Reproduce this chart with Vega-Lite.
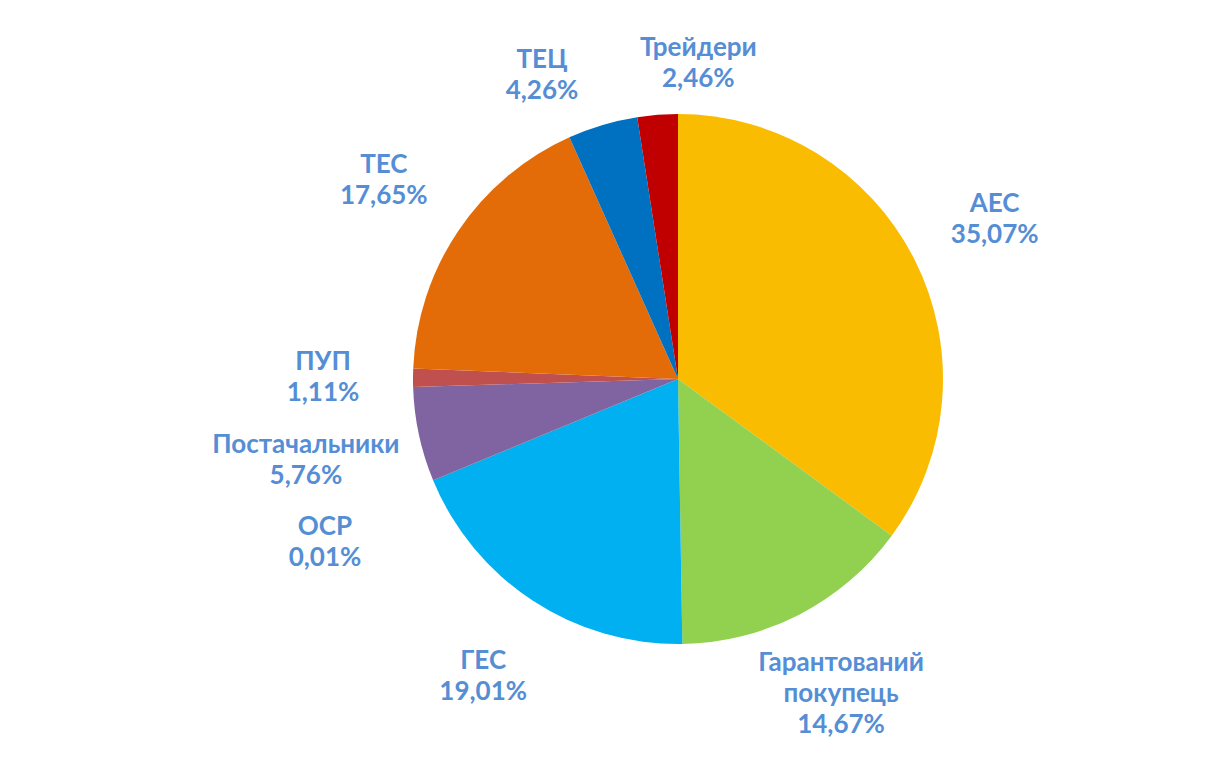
{
  "$schema": "https://vega.github.io/schema/vega-lite/v6.json",
  "width": 1056,
  "height": 758,
  "autosize": {"type": "none"},
  "padding": {"left": 150, "right": 0, "top": 0, "bottom": 0},
  "background": "white",
  "view": {"stroke": null},
  "config": {
    "text": {"font": "Lato", "fontWeight": "bold", "fontSize": 26, "lineHeight": 31, "lineBreak": "\n", "align": "center", "baseline": "middle", "radius": 355, "fill": "#558ED5"}
  },
  "data": {
    "values": [
      {"i": 1, "name": "АЕС", "share": 35.07, "caption": "АЕС\n35,07%"},
      {"i": 2, "name": "Гарантований покупець", "share": 14.67, "caption": "Гарантований\nпокупець\n14,67%"},
      {"i": 3, "name": "ГЕС", "share": 19.01, "caption": "ГЕС\n19,01%"},
      {"i": 4, "name": "ОСР", "share": 0.01, "caption": "ОСР\n0,01%"},
      {"i": 5, "name": "Постачальники", "share": 5.76, "caption": "Постачальники\n5,76%"},
      {"i": 6, "name": "ПУП", "share": 1.11, "caption": "ПУП\n1,11%"},
      {"i": 7, "name": "ТЕС", "share": 17.65, "caption": "ТЕС\n17,65%"},
      {"i": 8, "name": "ТЕЦ", "share": 4.26, "caption": "ТЕЦ\n4,26%"},
      {"i": 9, "name": "Трейдери", "share": 2.46, "caption": "Трейдери\n2,46%"}
    ]
  },
  "encoding": {
    "theta": {"field": "share", "type": "quantitative", "stack": true},
    "order": {"field": "i", "type": "quantitative"}
  },
  "layer": [
    {
      "mark": {"type": "arc", "outerRadius": 265, "stroke": null},
      "encoding": {
        "color": {
          "field": "name",
          "type": "nominal",
          "legend": null,
          "scale": {
            "domain": ["АЕС", "Гарантований покупець", "ГЕС", "ОСР", "Постачальники", "ПУП", "ТЕС", "ТЕЦ", "Трейдери"],
            "range": ["#F9BC00", "#92D050", "#00B0F0", "#2F2F2F", "#8064A2", "#C0504D", "#E36C09", "#0070C0", "#C00000"]
          }
        }
      }
    },
    {
      "mark": {"type": "text", "radius": 355, "dy": -15},
      "encoding": {"text": {"condition": {"test": "indexof(['АЕС','ГЕС','ТЕС','ПУП'], datum.name) >= 0", "field": "caption"}, "value": ""}}
    },
    {
      "mark": {"type": "text", "radius": 355, "dy": -31},
      "encoding": {"text": {"condition": {"test": "datum.name === 'Гарантований покупець'", "field": "caption"}, "value": ""}}
    },
    {
      "mark": {"type": "text", "radius": 320, "dx": 45, "dy": -12},
      "encoding": {"text": {"condition": {"test": "datum.name === 'Трейдери'", "field": "caption"}, "value": ""}}
    },
    {
      "mark": {"type": "text", "radius": 320, "dx": -45, "dy": -12},
      "encoding": {"text": {"condition": {"test": "datum.name === 'ТЕЦ'", "field": "caption"}, "value": ""}}
    },
    {
      "mark": {"type": "text", "radius": 355, "dx": -25, "dy": -8},
      "encoding": {"text": {"condition": {"test": "datum.name === 'Постачальники'", "field": "caption"}, "value": ""}}
    },
    {
      "mark": {"type": "text", "radius": 355, "dx": -25, "dy": 12},
      "encoding": {"text": {"condition": {"test": "datum.name === 'ОСР'", "field": "caption"}, "value": ""}}
    }
  ]
}
